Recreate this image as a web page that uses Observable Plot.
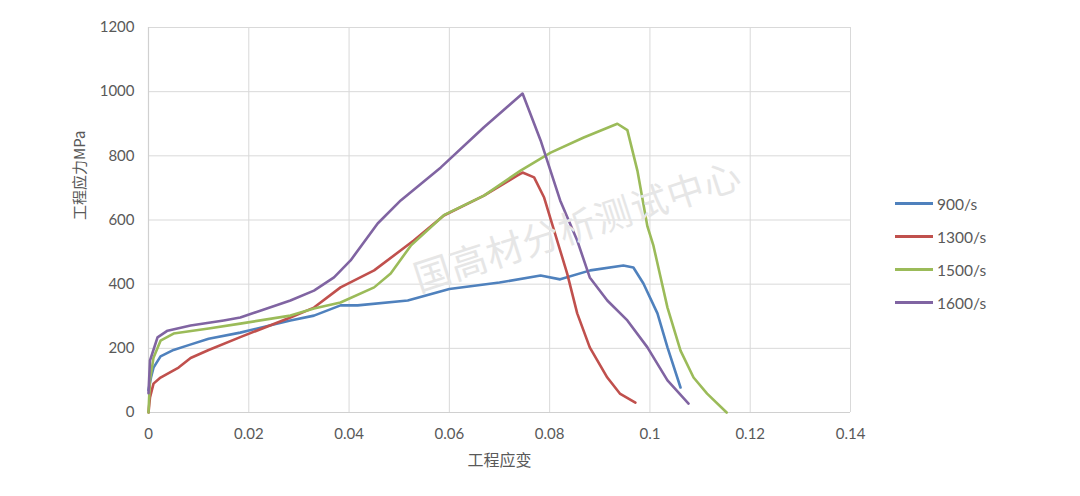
<!DOCTYPE html>
<html>
<head>
<meta charset="utf-8">
<script src="https://cdn.jsdelivr.net/npm/d3@7"></script>
<script src="https://cdn.jsdelivr.net/npm/@observablehq/plot@0.6"></script>
<style>
  html, body { margin: 0; padding: 0; background: #fff; }
  #wrap { position: relative; width: 1080px; height: 496px; font-family: Lato, "Noto Sans CJK SC", sans-serif; }
  #legend { position: absolute; left: 895px; top: 187px; font-size: 15.5px; color: #595959; }
  #legend .row { display: flex; align-items: center; height: 33px; }
  #legend .sw { width: 38px; height: 3px; margin-right: 4px; }
  #watermark { position: absolute; left: 414px; top: 250px; font-family: "Noto Sans CJK SC", sans-serif; font-size: 37px; color: #e6e6e6; transform: rotate(-18deg); transform-origin: left center; white-space: nowrap; letter-spacing: 1px; pointer-events: none; }
</style>
</head>
<body>
<div id="wrap"></div>
<script>
// ---- data ----
const seriesNames = ["900/s", "1300/s", "1500/s", "1600/s"];
const seriesColors = ["#4F81BD", "#C0504D", "#9BBB59", "#8064A2"];

const strain900 = [0, 0.0005, 0.001, 0.0024, 0.005, 0.008, 0.012, 0.0183, 0.0283, 0.033, 0.0383, 0.0417, 0.0517, 0.06, 0.07, 0.0782, 0.0821, 0.0881, 0.0947, 0.0967, 0.0987, 0.1015, 0.1035, 0.1061];
const stress900 = [70, 109, 140, 175, 195, 210, 230, 249, 287, 302, 334, 334, 349, 385, 405, 427, 415, 443, 458, 452, 402, 309, 203, 78];

const strain1300 = [0, 0.0003, 0.001, 0.0024, 0.006, 0.0084, 0.012, 0.0183, 0.0283, 0.033, 0.0383, 0.045, 0.0529, 0.0589, 0.0669, 0.0736, 0.0746, 0.0769, 0.0789, 0.0815, 0.0835, 0.0855, 0.088, 0.0915, 0.094, 0.0971];
const stress1300 = [0, 47, 90, 109, 140, 170, 195, 235, 296, 327, 390, 443, 536, 614, 676, 739, 748, 733, 670, 536, 433, 309, 203, 109, 59, 31];

const strain1500 = [0, 0.0003, 0.001, 0.0024, 0.005, 0.012, 0.0183, 0.0283, 0.033, 0.0383, 0.045, 0.0483, 0.0523, 0.0589, 0.0669, 0.0742, 0.0802, 0.0868, 0.0935, 0.0955, 0.0975, 0.0995, 0.1007, 0.102, 0.1035, 0.1061, 0.1087, 0.1114, 0.1153];
const stress1500 = [0, 100, 171, 224, 246, 262, 277, 302, 324, 343, 390, 433, 520, 615, 676, 754, 810, 857, 900, 880, 754, 580, 520, 430, 327, 193, 109, 59, 0];

const strain1600 = [0, 0.0003, 0.0018, 0.0038, 0.0084, 0.015, 0.0183, 0.0283, 0.033, 0.037, 0.0403, 0.0457, 0.0503, 0.0583, 0.0669, 0.0746, 0.0782, 0.0821, 0.0855, 0.088, 0.0915, 0.0955, 0.0995, 0.1035, 0.1077];
const stress1600 = [60, 162, 234, 255, 271, 287, 296, 349, 380, 421, 474, 589, 661, 764, 889, 994, 848, 661, 536, 421, 349, 287, 203, 100, 28];

const xTicks = [0, 0.02, 0.04, 0.06, 0.08, 0.1, 0.12, 0.14];
const yTicks = [0, 200, 400, 600, 800, 1000, 1200];

const xLabel = "工程应变";
const yLabel = "工程应力MPa";
const watermarkText = "国高材分析测试中心";

// ---- build table ----
const strains = [strain900, strain1300, strain1500, strain1600];
const stresses = [stress900, stress1300, stress1500, stress1600];
const rows = [];
seriesNames.forEach((name, i) => {
  strains[i].forEach((x, j) => rows.push({series: name, strain: x, stress: stresses[i][j]}));
});

const fmtX = d => String(+d.toFixed(2));
const fmtY = d => String(d);

const chart = Plot.plot({
  width: 1080,
  height: 496,
  marginLeft: 148,
  marginRight: 230,
  marginTop: 27,
  marginBottom: 84,
  style: {fontFamily: "Lato, 'Noto Sans CJK SC', sans-serif", fontSize: "15px", color: "#595959", background: "#fff"},
  x: {domain: [0, 0.14], ticks: xTicks, tickFormat: fmtX, tickSize: 0, tickPadding: 16, label: null},
  y: {domain: [0, 1200], ticks: yTicks, tickFormat: fmtY, tickSize: 0, tickPadding: 14, label: null},
  color: {domain: seriesNames, range: seriesColors},
  marks: [
    Plot.gridX(xTicks, {stroke: "#d9d9d9", strokeOpacity: 1, strokeWidth: 1}),
    Plot.gridY(yTicks, {stroke: "#d9d9d9", strokeOpacity: 1, strokeWidth: 1}),
    Plot.ruleY([0], {stroke: "#d0d0d0", strokeWidth: 1.2}),
    Plot.ruleX([0], {stroke: "#d0d0d0", strokeWidth: 1.2}),
    Plot.axisX({ticks: xTicks, tickFormat: fmtX, tickSize: 0, tickPadding: 16, label: null, fill: "#595959"}),
    Plot.axisY({ticks: yTicks, tickFormat: fmtY, tickSize: 0, tickPadding: 14, label: null, fill: "#595959"}),
    Plot.line(rows, {x: "strain", y: "stress", z: "series", stroke: "series", strokeWidth: 2.6, strokeLinejoin: "round", curve: "linear"}),
    Plot.text([xLabel], {frameAnchor: "bottom", dy: 53, fontSize: 16, fill: "#595959", fontFamily: "'Noto Sans CJK SC', sans-serif"}),
    Plot.text([yLabel], {frameAnchor: "left", dx: -68, rotate: -90, fontSize: 15, fill: "#595959", fontFamily: "'Noto Sans CJK SC', sans-serif"})
  ]
});

const wrap = document.getElementById("wrap");
wrap.appendChild(chart);

const wm = document.createElement("div");
wm.id = "watermark";
wm.textContent = watermarkText;
wrap.appendChild(wm);

const legend = document.createElement("div");
legend.id = "legend";
seriesNames.forEach((name, i) => {
  const row = document.createElement("div");
  row.className = "row";
  const sw = document.createElement("div");
  sw.className = "sw";
  sw.style.background = seriesColors[i];
  const t = document.createElement("span");
  t.textContent = name;
  row.appendChild(sw);
  row.appendChild(t);
  legend.appendChild(row);
});
wrap.appendChild(legend);
</script>
</body>
</html>
